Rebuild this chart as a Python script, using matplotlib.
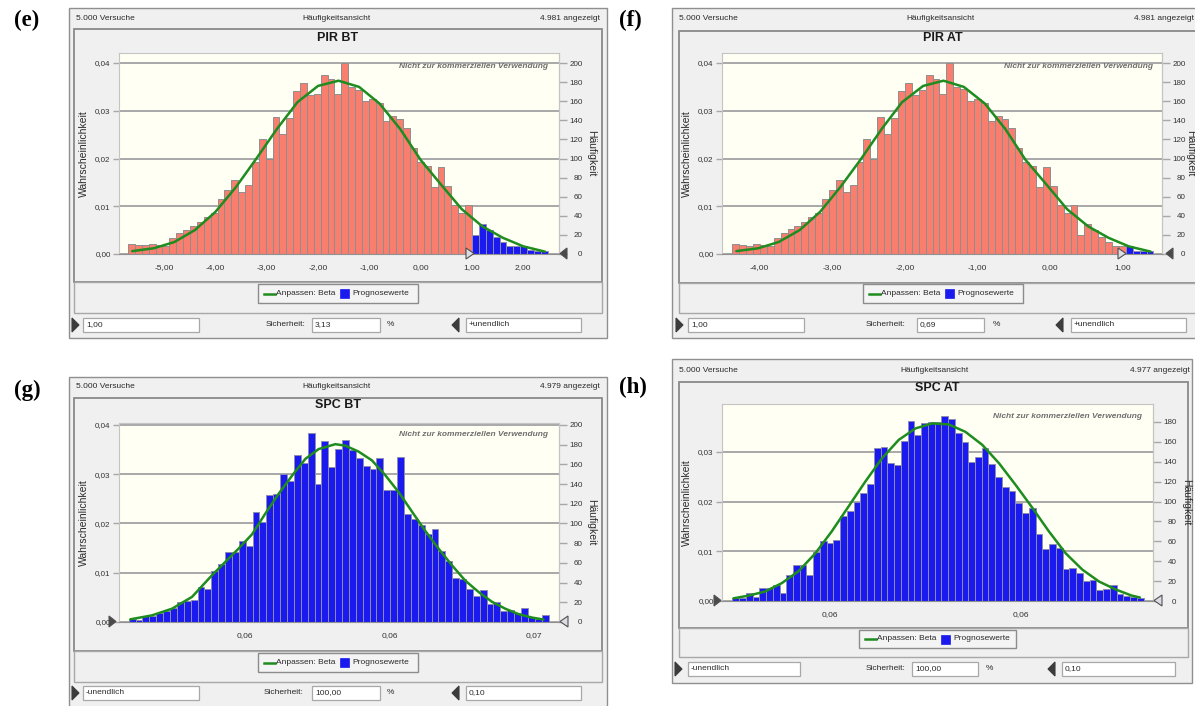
import matplotlib
matplotlib.use("Agg")
import matplotlib.pyplot as plt
from matplotlib.patches import Rectangle, Polygon
from matplotlib.ticker import FuncFormatter
import numpy as np

plt.rcParams['font.family'] = ['Liberation Sans', 'DejaVu Sans']

# ---------------------------------------------------------------- data
TRIALS = 5000

# (e) PIR BT
e_title = "PIR BT"
e_shown = "4.981 angezeigt"
e_bin_start = -5.70
e_bin_width = 0.134
e_counts = [10, 9, 9, 10, 9, 8, 17, 22, 25, 29, 33, 39, 43, 58, 67, 78, 65, 72, 96, 120,
            100, 143, 126, 142, 171, 179, 166, 168, 187, 183, 168, 200, 175, 172, 160, 162,
            158, 139, 145, 141, 132, 111, 96, 92, 70, 91, 71, 51, 43, 51, 20, 31, 25, 18,
            13, 8, 8, 8, 4, 3, 3]
e_first_blue = 50
e_curve_x = [-5.62, -5.2, -4.8, -4.4, -4.0, -3.6, -3.2, -2.8, -2.4, -2.0, -1.6, -1.2,
             -0.8, -0.4, 0.0, 0.4, 0.8, 1.2, 1.6, 2.0, 2.42]
e_curve_p = [0.0006, 0.0012, 0.0025, 0.0050, 0.0088, 0.0140, 0.0200, 0.0262, 0.0318,
             0.0352, 0.0363, 0.0350, 0.0315, 0.0262, 0.0197, 0.0145, 0.0094, 0.0058,
             0.0034, 0.0016, 0.0005]
e_xticks = [-5, -4, -3, -2, -1, 0, 1, 2]
e_xticklabels = ["-5,00", "-4,00", "-3,00", "-2,00", "-1,00", "0,00", "1,00", "2,00"]
e_fields = ["1,00", "3,13", "+unendlich"]

# (f) PIR AT
f_title = "PIR AT"
f_shown = "4.981 angezeigt"
f_bin_start = -4.376
f_bin_width = 0.095
f_counts = [10, 9, 8, 10, 9, 8, 17, 22, 26, 29, 33, 39, 43, 58, 67, 78, 65, 72, 96, 120,
            100, 143, 126, 142, 171, 179, 166, 172, 187, 183, 168, 200, 175, 173, 160, 162,
            158, 139, 145, 141, 132, 111, 96, 92, 70, 91, 71, 51, 43, 51, 20, 31, 25, 18,
            13, 8, 8, 8, 3, 3, 3]
f_first_blue = 57
f_curve_x = [-4.32, -4.02, -3.74, -3.45, -3.17, -2.89, -2.60, -2.32, -2.04, -1.75, -1.47,
             -1.19, -0.90, -0.62, -0.34, -0.05, 0.23, 0.52, 0.80, 1.08, 1.38]
f_curve_p = [0.0006, 0.0012, 0.0025, 0.0050, 0.0088, 0.0140, 0.0200, 0.0262, 0.0318,
             0.0352, 0.0363, 0.0350, 0.0315, 0.0262, 0.0197, 0.0145, 0.0094, 0.0058,
             0.0034, 0.0016, 0.0005]
f_xticks = [-4, -3, -2, -1, 0, 1]
f_xticklabels = ["-4,00", "-3,00", "-2,00", "-1,00", "0,00", "1,00"]
f_fields = ["1,00", "0,69", "+unendlich"]

# (g) SPC BT
g_title = "SPC BT"
g_shown = "4.979 angezeigt"
g_bin_start = 0.048935
g_bin_width = 0.000358
g_counts = [3, 2, 6, 6, 9, 11, 14, 20, 21, 22, 36, 34, 52, 59, 71, 71, 82, 77, 112, 102,
            129, 130, 150, 143, 170, 161, 192, 140, 184, 157, 176, 185, 175, 166, 158, 155,
            166, 134, 134, 167, 110, 105, 98, 89, 94, 72, 62, 45, 44, 33, 26, 32, 18, 20,
            11, 12, 9, 14, 5, 3, 7]
g_first_blue = 0
g_curve_x = [0.04902, 0.05015, 0.05119, 0.05223, 0.05327, 0.05396, 0.05465, 0.05535,
             0.05604, 0.05673, 0.05743, 0.05812, 0.05881, 0.05968, 0.06020, 0.06089,
             0.06159, 0.06228, 0.06297, 0.06367, 0.06436, 0.06505, 0.06575, 0.06644,
             0.06713, 0.06783, 0.06852, 0.06921, 0.06991, 0.07051]
g_curve_p = [0.00054, 0.00135, 0.0027, 0.0051, 0.0095, 0.0122, 0.0149, 0.0178, 0.0220,
             0.0260, 0.0297, 0.0331, 0.0351, 0.0361, 0.0358, 0.0346, 0.0328, 0.0298,
             0.0264, 0.0224, 0.0185, 0.0149, 0.0115, 0.0084, 0.0061, 0.0041, 0.0027,
             0.0016, 0.0009, 0.0005]
g_xticks = [0.055, 0.0625, 0.070]
g_xticklabels = ["0,06", "0,06", "0,07"]
g_fields = ["-unendlich", "100,00", "0,10"]

# (h) SPC AT
h_title = "SPC AT"
h_shown = "4.977 angezeigt"
h_bin_start = 0.054929
h_bin_width = 0.000177
h_counts = [3, 3, 8, 4, 13, 13, 16, 8, 26, 36, 36, 26, 49, 60, 58, 61, 85, 90, 100, 109,
            118, 154, 155, 139, 137, 161, 181, 167, 179, 180, 180, 186, 183, 169, 160, 140,
            145, 154, 138, 125, 115, 111, 99, 88, 93, 67, 52, 57, 53, 32, 33, 28, 20, 21,
            11, 12, 16, 7, 5, 4, 3]
h_first_blue = 0
h_curve_x = [0.05496, 0.05535, 0.05579, 0.05623, 0.05667, 0.05711, 0.05754, 0.05798,
             0.05842, 0.05886, 0.05930, 0.05974, 0.06018, 0.06061, 0.06105, 0.06149,
             0.06193, 0.06237, 0.06281, 0.06324, 0.06368, 0.06412, 0.06456, 0.06500,
             0.06541, 0.06563]
h_curve_p = [0.00054, 0.00107, 0.0019, 0.0036, 0.0060, 0.0096, 0.0140, 0.0190, 0.0240,
             0.0287, 0.0324, 0.0347, 0.0357, 0.0355, 0.0340, 0.0314, 0.0277, 0.0233,
             0.0187, 0.0140, 0.0096, 0.0063, 0.0039, 0.0023, 0.0011, 0.0007]
h_xticks = [0.0575, 0.0625]
h_xticklabels = ["0,06", "0,06"]
h_fields = ["-unendlich", "100,00", "0,10"]

# ---------------------------------------------------------------- style
W, H = 1195, 706
SALMON = '#f97e6e'
BLUE = '#1a1aef'
GREEN = '#1e8c1e'
WIN = '#f0f0f0'
TXT = '#2a2a2a'
SMALL = 6

fig = plt.figure(figsize=(W / 100, H / 100), dpi=100)
fig.patch.set_facecolor('white')


def px_axes(z):
    a = fig.add_axes([0, 0, 1, 1])
    a.set_xlim(0, W)
    a.set_ylim(H, 0)
    a.axis('off')
    a.set_zorder(z)
    return a


bg = px_axes(0)
ov = px_axes(20)


def rect(a, x0, y0, x1, y1, fc, ec, lw=1.0, z=1):
    a.add_patch(Rectangle((x0, y0), x1 - x0, y1 - y0, facecolor=fc, edgecolor=ec,
                          lw=lw, zorder=z))


def tri(a, x0, y0, x1, y1, right, fc, ec='#505050'):
    ym = (y0 + y1) / 2
    if right:
        pts = [(x0, y0), (x0, y1), (x1, ym)]
    else:
        pts = [(x1, y0), (x1, y1), (x0, ym)]
    a.add_patch(Polygon(pts, closed=True, facecolor=fc, edgecolor=ec, lw=0.8, zorder=5))


def comma(v, pos=None):
    return f"{v:.2f}".replace('.', ',')


def panel(L, title, shown, bin_start, bin_width, counts, first_blue, cx, cp,
          xticks, xticklabels, fields):
    # window chrome
    wx0, wy0, wx1, wy1 = L['win']
    rect(bg, wx0, wy0, wx1, wy1, WIN, '#8f8f8f', lw=1.0)
    hy = L['head_y']
    bg.text(wx0 + 7, hy, "5.000 Versuche", fontsize=SMALL, color=TXT, va='center', ha='left')
    bg.text(L['head_c'], hy, "Häufigkeitsansicht", fontsize=SMALL, color=TXT,
            va='center', ha='center')
    bg.text(L['head_r'], hy, shown, fontsize=SMALL, color=TXT, va='center', ha='right')
    fx0, fy0, fx1, fy1 = L['frame']
    sep = L['sep']
    rect(bg, fx0, fy0, fx1, sep, WIN, '#8a8a8a', lw=1.3)
    rect(bg, fx0, sep, fx1, fy1, WIN, '#a8a8a8', lw=1.0)
    bg.text(L['title'][0], L['title'][1], title, fontsize=9, fontweight='bold',
            color='#1a1a1a', ha='center', va='center')
    bg.text(L['panel'][0], L['panel'][1], L['label'], fontsize=16.5, fontweight='bold',
            family='Liberation Serif', color='black', ha='left', va='center')

    # plot area
    x0, y0, x1, y1 = L['plot']
    ax = fig.add_axes([x0 / W, 1 - y1 / H, (x1 - x0) / W, (y1 - y0) / H])
    ax.set_zorder(5)
    ax.set_facecolor('#fffff3')
    n = len(counts)
    left_edges = bin_start + bin_width * np.arange(n)
    probs = np.array(counts, dtype=float) / TRIALS
    colors = [SALMON if i < first_blue else BLUE for i in range(n)]
    edges = ['#8e8e8e' if i < first_blue else '#8c8cb4' for i in range(n)]
    ax.bar(left_edges, probs, width=bin_width, align='edge', color=colors,
           edgecolor=edges, linewidth=0.7, zorder=2)
    ax.plot(cx, cp, color=GREEN, lw=1.8, zorder=3, solid_capstyle='round')
    ax.set_xlim(L['xlim'])
    ax.set_ylim(0, L['ymax'])
    ax.set_yticks(L['yticks'])
    ax.yaxis.set_major_formatter(FuncFormatter(comma))
    ax.set_xticks(xticks)
    ax.set_xticklabels(xticklabels)
    ax.grid(axis='y', color='#a8a8a8', lw=1.4)
    ax.set_axisbelow(True)
    ax.tick_params(axis='y', length=4, width=1.0, color='#a8a8a8', pad=2,
                   labelsize=5.8, labelcolor='#333333')
    ax.tick_params(axis='x', length=0, pad=7, labelsize=SMALL, labelcolor='#333333')
    for s in ax.spines.values():
        s.set_color('#c4c4c4')
        s.set_linewidth(0.8)
    ax.spines['bottom'].set_color('#909090')
    sec = ax.secondary_yaxis('right', functions=(lambda p: p * TRIALS,
                                                 lambda c: c / TRIALS))
    sec.set_yticks(L['y2ticks'])
    sec.tick_params(length=6, width=1.0, color='#a8a8a8', pad=11, labelsize=5.8,
                    labelcolor='#333333')
    plt.setp(sec.get_yticklabels(), ha='right')
    sec.spines['right'].set_color('#c4c4c4')
    sec.spines['right'].set_linewidth(0.8)

    # axis titles
    bg.text(L['ylab'][0], L['ylab'][1], "Wahrscheinlichkeit", rotation=90, fontsize=7.5,
            color=TXT, ha='center', va='center')
    bg.text(L['y2lab'][0], L['y2lab'][1], "Häufigkeit", rotation=270, fontsize=7.5,
            color=TXT, ha='center', va='center')
    # watermark
    ov.text(L['wm'][0], L['wm'][1], "Nicht zur kommerziellen Verwendung", fontsize=6,
            style='italic', fontweight='bold', color='#6e6e6e', ha='right', va='center')

    # slider triangles on the axis
    for (tx0, tx1, right, dark) in L['axis_tris']:
        tri(ov, tx0, y1 - 6, tx1, y1 + 5, right, '#4a4a4a' if dark else '#dcdce4')

    # legend
    lx0, ly0, lx1, ly1 = L['legend']
    rect(bg, lx0, ly0, lx1, ly1, '#f4f4f4', '#8c8c8c', lw=1.0, z=2)
    ym = (ly0 + ly1) / 2
    bg.plot([lx0 + 6, lx0 + 17], [ym, ym], color=GREEN, lw=1.8, zorder=3)
    bg.text(lx0 + 18, ym, "Anpassen: Beta", fontsize=SMALL, color=TXT, ha='left',
            va='center', zorder=3)
    rect(bg, lx0 + 82, ym - 4.5, lx0 + 91, ym + 4.5, BLUE, BLUE, lw=0.5, z=3)
    bg.text(lx0 + 94, ym, "Prognosewerte", fontsize=SMALL, color=TXT, ha='left',
            va='center', zorder=3)

    # bottom row
    by = L['bot_y']
    b = L['bot']
    tri(bg, b['tr'], by - 7, b['tr'] + 7, by + 7, True, '#3c3c3c', '#3c3c3c')
    tri(bg, b['tl'], by - 7, b['tl'] + 7, by + 7, False, '#3c3c3c', '#3c3c3c')
    for (bx0, bx1), txt in zip(b['boxes'], fields):
        rect(bg, bx0, by - 7, bx1, by + 7, 'white', '#a8a8a8', lw=0.9, z=2)
        bg.text(bx0 + 3, by, txt, fontsize=SMALL, color=TXT, ha='left', va='center',
                zorder=3)
    bg.text(b['sich'], by, "Sicherheit:", fontsize=SMALL, color=TXT, ha='right',
            va='center')
    bg.text(b['pct'], by, "%", fontsize=SMALL, color=TXT, ha='center', va='center')


LE = dict(label='(e)', panel=(14, 20), win=(69, 8, 607, 338), head_y=19, head_c=337,
          head_r=600, frame=(74, 29, 602, 313), sep=282,
          title=(338, 38), plot=(119, 53, 559, 254), xlim=(-5.877, 2.695), ymax=0.0421,
          yticks=[0, 0.01, 0.02, 0.03, 0.04], y2ticks=list(range(0, 201, 20)),
          ylab=(84, 153.5), y2lab=(591, 153.5), wm=(548, 66),
          axis_tris=[(466, 474, True, False), (560, 567, False, True)],
          legend=(258, 284, 418, 303), bot_y=325,
          bot=dict(tr=72, tl=452, sich=306, pct=390,
                   boxes=[(83, 199), (312, 380), (466, 581)]))

LF = dict(label='(f)', panel=(619, 20), win=(672, 8, 1205, 338), head_y=19, head_c=941,
          head_r=1194, frame=(679, 31, 1205, 313), sep=283,
          title=(943, 38), plot=(722, 53, 1162, 254), xlim=(-4.518, 1.537), ymax=0.0421,
          yticks=[0, 0.01, 0.02, 0.03, 0.04], y2ticks=list(range(0, 201, 20)),
          ylab=(687, 153.5), y2lab=(1190, 153.5), wm=(1153, 66),
          axis_tris=[(1118, 1126, True, False), (1166, 1173, False, True)],
          legend=(863, 284, 1023, 303), bot_y=325,
          bot=dict(tr=676, tl=1056, sich=906, pct=996,
                   boxes=[(688, 804), (917, 984), (1071, 1186)]))

LG = dict(label='(g)', panel=(14, 390), win=(69, 377, 607, 712), head_y=387, head_c=337,
          head_r=600, frame=(74, 398, 602, 682), sep=651,
          title=(338, 405), plot=(119, 423, 559, 622), xlim=(0.048431, 0.071316),
          ymax=0.0404, yticks=[0, 0.01, 0.02, 0.03, 0.04],
          y2ticks=list(range(0, 201, 20)), ylab=(84, 522.5), y2lab=(591, 522.5),
          wm=(548, 434),
          axis_tris=[(109, 116, True, True), (560, 568, False, False)],
          legend=(258, 653, 418, 672), bot_y=693,
          bot=dict(tr=72, tl=452, sich=304, pct=390,
                   boxes=[(83, 199), (312, 380), (466, 581)]))

LH = dict(label='(h)', panel=(619, 387), win=(672, 359, 1192, 683), head_y=370,
          head_c=935, head_r=1190, frame=(679, 382, 1188, 657),
          sep=628, title=(937, 388), plot=(722, 404, 1153, 601),
          xlim=(0.054658, 0.065974), ymax=0.0396, yticks=[0, 0.01, 0.02, 0.03],
          y2ticks=list(range(0, 181, 20)), ylab=(687, 502.5), y2lab=(1186, 502.5),
          wm=(1142, 417),
          axis_tris=[(714, 721, True, True), (1154, 1162, False, False)],
          legend=(859, 630, 1016, 648), bot_y=669,
          bot=dict(tr=675, tl=1048, sich=906, pct=989,
                   boxes=[(688, 800), (912, 978), (1062, 1175)]))

panel(LE, e_title, e_shown, e_bin_start, e_bin_width, e_counts, e_first_blue,
      e_curve_x, e_curve_p, e_xticks, e_xticklabels, e_fields)
panel(LF, f_title, f_shown, f_bin_start, f_bin_width, f_counts, f_first_blue,
      f_curve_x, f_curve_p, f_xticks, f_xticklabels, f_fields)
panel(LG, g_title, g_shown, g_bin_start, g_bin_width, g_counts, g_first_blue,
      g_curve_x, g_curve_p, g_xticks, g_xticklabels, g_fields)
panel(LH, h_title, h_shown, h_bin_start, h_bin_width, h_counts, h_first_blue,
      h_curve_x, h_curve_p, h_xticks, h_xticklabels, h_fields)

fig.savefig("out.png", dpi=100, facecolor='white')
